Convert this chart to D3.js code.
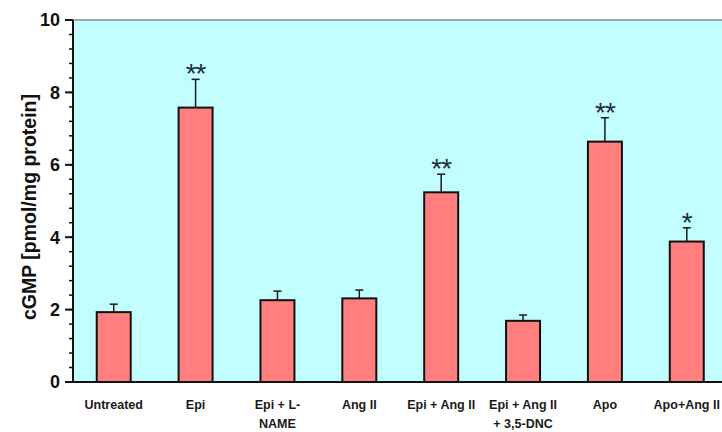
<!DOCTYPE html>
<html>
<head>
<meta charset="utf-8">
<script src="https://cdn.jsdelivr.net/npm/d3@7"></script>
<style>
  html, body { margin: 0; padding: 0; background: #fff; }
  svg { display: block; }
</style>
</head>
<body>
<svg id="chart" width="722" height="432"></svg>
<script>
// Treatment groups and their cGMP levels (mean and upper SEM bound)
const categories = [
  ["Untreated"],
  ["Epi"],
  ["Epi + L-", "NAME"],
  ["Ang II"],
  ["Epi + Ang II"],
  ["Epi + Ang II", "+ 3,5-DNC"],
  ["Apo"],
  ["Apo+Ang II"]
];
const means = [1.93, 7.58, 2.26, 2.31, 5.24, 1.69, 6.64, 3.88];
const errors = [0.22, 0.78, 0.25, 0.23, 0.50, 0.16, 0.66, 0.38];
const significance = ["", "**", "", "", "**", "", "**", "*"];
const yTicks = [0, 2, 4, 6, 8, 10];
const yLabel = "cGMP [pmol/mg protein]";

const svg = d3.select("#chart");
const plot = { left: 73, top: 20, bottom: 382, right: 727.5 };

const x = d3.scaleBand()
  .domain(d3.range(categories.length))
  .range([plot.left, plot.right])
  .paddingInner(0.585)
  .paddingOuter(0.29);

const y = d3.scaleLinear().domain([0, 10]).range([plot.bottom, plot.top]);

// Plot panel
svg.append("rect")
  .attr("x", plot.left).attr("y", plot.top)
  .attr("width", plot.right - plot.left).attr("height", plot.bottom - plot.top)
  .attr("fill", "#c2fdff");
svg.append("line")
  .attr("x1", plot.left).attr("x2", 722)
  .attr("y1", plot.top).attr("y2", plot.top)
  .attr("stroke", "#7f8f8f").attr("stroke-width", 1.6);

// Error bars (upper only)
const eb = svg.append("g").attr("stroke", "#1a1a1a").attr("stroke-width", 1.5);
means.forEach((m, i) => {
  const cx = x(i) + x.bandwidth() / 2;
  eb.append("line").attr("x1", cx).attr("x2", cx)
    .attr("y1", y(m)).attr("y2", y(m + errors[i]));
  eb.append("line").attr("x1", cx - 4).attr("x2", cx + 4)
    .attr("y1", y(m + errors[i])).attr("y2", y(m + errors[i]));
});

// Bars
svg.append("g").selectAll("rect").data(means).join("rect")
  .attr("x", (d, i) => x(i))
  .attr("y", d => y(d))
  .attr("width", x.bandwidth())
  .attr("height", d => y(0) - y(d))
  .attr("fill", "#ff7f7f")
  .attr("stroke", "#111")
  .attr("stroke-width", 2);

// Significance markers
svg.append("g").selectAll("text").data(significance).join("text")
  .attr("x", (d, i) => x(i) + x.bandwidth() / 2)
  .attr("y", (d, i) => y(means[i] + errors[i]) + 4)
  .attr("text-anchor", "middle")
  .attr("font-family", "Liberation Sans, Arial, sans-serif")
  .attr("font-size", 28)
  .attr("letter-spacing", -1)
  .attr("fill", "#1c2b3a")
  .text(d => d);

// Y axis with minor ticks
const minor = d3.range(0, 10.01, 0.4);
const ya = svg.append("g");
ya.selectAll("line.minor").data(minor).join("line")
  .attr("class", "minor")
  .attr("x1", plot.left - 4).attr("x2", plot.left)
  .attr("y1", d => y(d)).attr("y2", d => y(d))
  .attr("stroke", "#111").attr("stroke-width", 1.5);
ya.selectAll("line.major").data(yTicks).join("line")
  .attr("class", "major")
  .attr("x1", plot.left - 8).attr("x2", plot.left)
  .attr("y1", d => y(d)).attr("y2", d => y(d))
  .attr("stroke", "#111").attr("stroke-width", 2);
ya.selectAll("text").data(yTicks).join("text")
  .attr("x", plot.left - 13)
  .attr("y", d => y(d))
  .attr("dy", "0.36em")
  .attr("text-anchor", "end")
  .attr("font-family", "Liberation Sans, Arial, sans-serif")
  .attr("font-weight", "bold")
  .attr("font-size", 18)
  .attr("fill", "#111")
  .text(d => d);
ya.append("line")
  .attr("x1", plot.left).attr("x2", plot.left)
  .attr("y1", plot.top).attr("y2", plot.bottom)
  .attr("stroke", "#111").attr("stroke-width", 2);

// Baseline
svg.append("line")
  .attr("x1", plot.left - 8).attr("x2", 722)
  .attr("y1", plot.bottom).attr("y2", plot.bottom)
  .attr("stroke", "#111").attr("stroke-width", 2.2);

// Y axis title
svg.append("text")
  .attr("transform", `translate(29,${(plot.top + plot.bottom) / 2 + 6}) rotate(-90)`)
  .attr("text-anchor", "middle")
  .attr("dy", "0.36em")
  .attr("font-family", "Liberation Sans, Arial, sans-serif")
  .attr("font-weight", "bold")
  .attr("font-size", 19.5)
  .attr("fill", "#111")
  .text(yLabel);

// Category labels
const xl = svg.append("g");
categories.forEach((lines, i) => {
  const cx = x(i) + x.bandwidth() / 2;
  const t = xl.append("text")
    .attr("text-anchor", "middle")
    .attr("font-family", "Liberation Sans Narrow, Liberation Sans, Arial, sans-serif")
    .attr("font-size", 12.5)
    .attr("font-weight", "bold")
    .attr("fill", "#1a1a1a");
  lines.forEach((s, k) => {
    t.append("tspan").attr("x", cx).attr("y", 409 + k * 19).text(s);
  });
});
</script>
</body>
</html>
